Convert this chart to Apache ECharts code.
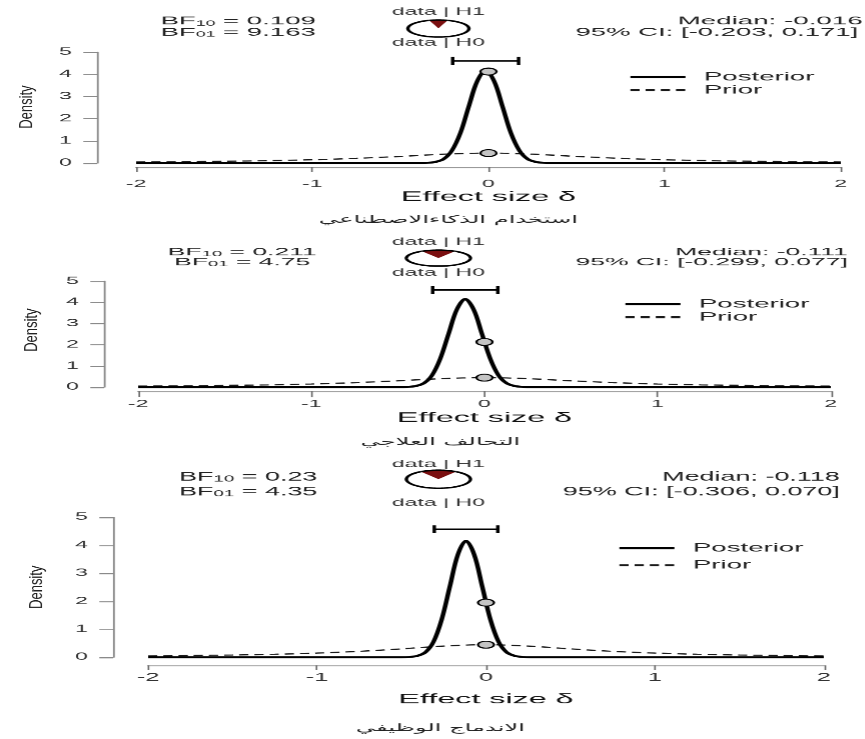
<!DOCTYPE html>
<html><head><meta charset="utf-8">
<script src="https://cdn.jsdelivr.net/npm/echarts@6/dist/echarts.min.js"></script>
<style>
html,body{margin:0;padding:0;background:#fff;overflow:hidden}
#c{width:376.087px;height:739px;transform:scaleX(2.3);transform-origin:0 0;}
</style></head><body><div id="c"></div>
<script>
// ---------------- data ----------------
const xTickValues = [-2, -1, 0, 1, 2];
const xTickLabels = ['-2', '-1', '0', '1', '2'];
const yTickValues = [0, 1, 2, 3, 4, 5];
const yTickLabels = ['0', '1', '2', '3', '4', '5'];
const panelTitles = ['استخدام الذكاءالاصطناعي', 'التحالف العلاجي', 'الاندماج الوظيفي'];
const bf10 = ['0.109', '0.211', '0.23'];
const bf01 = ['9.163', '4.75', '4.35'];
const medians = ['-0.016', '-0.111', '-0.118'];
const ciLow = [-0.203, -0.299, -0.306];
const ciHigh = [0.171, 0.077, 0.070];
const ciLevel = [4.60, 4.58, 4.57];
const pizzaH1 = [0.098, 0.174, 0.187];
const pizzaH0 = [0.902, 0.826, 0.813];
const posteriorAtZero = [4.12, 2.13, 1.95];
const priorAtZero = 0.45;
const seriesNames = ['Posterior', 'Prior'];

const priorX = [-2, -1.75, -1.5, -1.25, -1, -0.75, -0.5, -0.25, 0, 0.25, 0.5, 0.75, 1, 1.25, 1.5, 1.75, 2];
const priorY = [0.05, 0.063, 0.082, 0.109, 0.15, 0.212, 0.30, 0.40, 0.45, 0.40, 0.30, 0.212, 0.15, 0.109, 0.082, 0.063, 0.05];

const post1X = [-2, -0.398, -0.350, -0.303, -0.255, -0.207, -0.159, -0.112, -0.064, -0.016, 0.032, 0.080, 0.127, 0.175, 0.223, 0.271, 0.318, 0.366, 2];
const post1Y = [0, 0, 0.01, 0.05, 0.18, 0.57, 1.36, 2.54, 3.69, 4.18, 3.69, 2.54, 1.36, 0.57, 0.18, 0.05, 0.01, 0, 0];
const post2X = [-2, -0.495, -0.447, -0.399, -0.351, -0.303, -0.255, -0.207, -0.159, -0.111, -0.063, -0.015, 0.033, 0.081, 0.129, 0.177, 0.225, 0.273, 2];
const post2Y = [0, 0, 0.01, 0.05, 0.18, 0.56, 1.35, 2.52, 3.67, 4.16, 3.67, 2.52, 1.35, 0.56, 0.18, 0.05, 0.01, 0, 0];
const post3X = [-2, -0.502, -0.454, -0.406, -0.358, -0.310, -0.262, -0.214, -0.166, -0.118, -0.070, -0.022, 0.026, 0.074, 0.122, 0.170, 0.218, 0.266, 2];
const post3Y = [0, 0, 0.01, 0.05, 0.18, 0.56, 1.35, 2.52, 3.67, 4.16, 3.67, 2.52, 1.35, 0.56, 0.18, 0.05, 0.01, 0, 0];

// ---------------- layout (reference pixel coords; x divided by SX) ----------------
const SX = 2.3;
const F = "'Liberation Sans', Arial, sans-serif";
const layout = [
  {gx0:136, gx1:840, gy5:52, gy0:163, yOff:39, xOff:4, tick:5, lblM:12, nameGap:23, xFont:10,
   txt:{fs:11, sx:1.09, y1:21.5, y2:32.5}, bfX:238, medLeft:[677, 575], medSX:[1.095, 1.085],
   piz:{x:438, y:28.5, w:61, h:17, h1:12, h0:43}, leg:{x:616, y:76, gap:13},
   title:{x:448, y:220}, dens:{x:27, y:107}},
  {gx0:138, gx1:830, gy5:281, gy0:387, yOff:34, xOff:4, tick:6, lblM:8, nameGap:20, xFont:10,
   txt:{fs:10, sx:1.15, y1:252.5, y2:262.5}, bfX:242, medX:847,
   piz:{x:438, y:258, w:64, h:16, h1:242, h0:273}, leg:{x:611, y:303, gap:13},
   title:{x:440, y:442}, dens:{x:32, y:330}},
  {gx0:148, gx1:823, gy5:517, gy0:657, yOff:35, xOff:8, tick:5, lblM:7, nameGap:27, xFont:11,
   txt:{fs:13, sx:0.9, y1:477, y2:491.5}, bfX:248, medX:839,
   piz:{x:438, y:479, w:64, h:18, h1:464, h0:503}, leg:{x:605, y:547, gap:17},
   title:{x:440, y:728}, dens:{x:37, y:587}}
];

const postX = [post1X, post2X, post3X];
const postY = [post1Y, post2Y, post3Y];
const zip = (a, b) => a.map((v, i) => [v, b[i]]);

const chart = echarts.init(document.getElementById('c'), null, {renderer: 'canvas', devicePixelRatio: 2.3});

const grids = [], xAxes = [], yAxes = [], series = [], legends = [], graphics = [];

function ciRender(params, api) {
  const lo = api.coord([api.value(0), api.value(2)]);
  const hi = api.coord([api.value(1), api.value(2)]);
  const st = {stroke: '#000', lineWidth: 1.5};
  return {type: 'group', children: [
    {type: 'line', shape: {x1: lo[0], y1: lo[1], x2: hi[0], y2: hi[1]}, style: st},
    {type: 'line', shape: {x1: lo[0], y1: lo[1] - 4, x2: lo[0], y2: lo[1] + 4}, style: st},
    {type: 'line', shape: {x1: hi[0], y1: hi[1] - 4, x2: hi[0], y2: hi[1] + 4}, style: st}
  ]};
}

function pizzaRender(params, api) {
  const f0 = api.value(0), f1 = api.value(1), share = api.value(2);
  const toAng = f => Math.PI / 2 + Math.PI * share - 2 * Math.PI * f;
  const a0 = toAng(f0), a1 = toAng(f1);
  const n = Math.max(2, Math.ceil(Math.abs(a1 - a0) / (Math.PI / 90)));
  const arc = [];
  for (let k = 0; k <= n; k++) {
    const a = a0 + (a1 - a0) * k / n;
    arc.push(api.coord([Math.cos(a), Math.sin(a)]));
  }
  const c = api.coord([0, 0]);
  return {type: 'group', children: [
    {type: 'polygon', shape: {points: [c].concat(arc)}, style: {fill: params.dataIndex === 0 ? '#7a0f10' : '#ffffff'}},
    {type: 'polyline', shape: {points: arc}, style: {stroke: '#000', lineWidth: 1.5, fill: null}}
  ]};
}

layout.forEach((L, i) => {
  grids.push({left: L.gx0 / SX, width: (L.gx1 - L.gx0) / SX, top: L.gy5, height: L.gy0 - L.gy5});
  xAxes.push({
    type: 'value', gridIndex: i, min: xTickValues[0], max: xTickValues[xTickValues.length - 1], interval: 1,
    position: 'bottom', offset: L.xOff,
    axisLine: {show: true, onZero: false, lineStyle: {color: '#9a9a9a', width: 1}},
    axisTick: {show: true, length: L.tick, lineStyle: {color: '#666', width: 0.7}},
    axisLabel: {fontSize: L.xFont, fontFamily: F, color: '#333', margin: L.lblM,
      formatter: v => xTickLabels[xTickValues.indexOf(v)]},
    splitLine: {show: false},
    name: 'Effect size δ', nameLocation: 'middle', nameGap: L.nameGap,
    nameTextStyle: {fontSize: 14, fontFamily: F, color: '#111'}
  });
  yAxes.push({
    type: 'value', gridIndex: i, min: yTickValues[0], max: yTickValues[yTickValues.length - 1], interval: 1,
    position: 'left', offset: L.yOff / SX,
    axisLine: {show: true, onZero: false, lineStyle: {color: '#8a8a8a', width: 0.8}},
    axisTick: {show: true, length: 6, lineStyle: {color: '#8a8a8a', width: 1}},
    axisLabel: {fontSize: 10, fontFamily: F, color: '#333', margin: 11,
      formatter: v => yTickLabels[yTickValues.indexOf(v)]},
    splitLine: {show: false}
  });
});
layout.forEach((L, i) => {
  const P = L.piz;
  grids.push({left: (P.x - P.w / 2) / SX, width: P.w / SX, top: P.y - P.h / 2, height: P.h});
  xAxes.push({type: 'value', gridIndex: 3 + i, min: -1, max: 1, show: false});
  yAxes.push({type: 'value', gridIndex: 3 + i, min: -1, max: 1, show: false});
});

layout.forEach((L, i) => {
  series.push({
    name: seriesNames[1], type: 'line', xAxisIndex: i, yAxisIndex: i, data: zip(priorX, priorY),
    smooth: 0.3, symbol: 'none', z: 2,
    itemStyle: {color: 'rgba(0,0,0,0)'},
    lineStyle: {color: '#1a1a1a', width: 1.2, type: [4, 2.6]}
  });
  series.push({
    name: seriesNames[0], type: 'line', xAxisIndex: i, yAxisIndex: i, data: zip(postX[i], postY[i]),
    smooth: 0.35, symbol: 'none', z: 3,
    itemStyle: {color: 'rgba(0,0,0,0)'},
    lineStyle: {color: '#000', width: 2}
  });
  series.push({
    name: 'ci', type: 'custom', xAxisIndex: i, yAxisIndex: i, renderItem: ciRender, z: 4, clip: false,
    data: [[ciLow[i], ciHigh[i], ciLevel[i]]]
  });
  series.push({
    name: 'dots', type: 'scatter', xAxisIndex: i, yAxisIndex: i, z: 5, symbol: 'circle', symbolSize: 7,
    itemStyle: {color: '#c4c4c4', borderColor: '#000', borderWidth: 1, opacity: 1},
    data: [[0, posteriorAtZero[i]], [0, priorAtZero]]
  });
  series.push({
    name: 'pizza', type: 'custom', xAxisIndex: 3 + i, yAxisIndex: 3 + i, renderItem: pizzaRender, clip: false,
    data: [[0, pizzaH1[i], pizzaH1[i]], [pizzaH1[i], pizzaH1[i] + pizzaH0[i], pizzaH1[i]]]
  });

  legends.push({
    orient: 'vertical', left: L.leg.x / SX, top: L.leg.y - 10, itemWidth: 55 / SX, itemHeight: 8,
    itemGap: L.leg.gap - 12, data: seriesNames, selectedMode: false,
    itemStyle: {color: 'rgba(0,0,0,0)', borderWidth: 0},
    textStyle: {fontSize: 12, lineHeight: 12, fontFamily: F, color: '#222', padding: [0, 0, 0, 3]}
  });

  const T = L.txt;
  const rich = {
    n: {fontSize: T.fs, lineHeight: T.fs, fontFamily: F, fill: '#222'},
    s: {fontSize: Math.round(T.fs * 0.68), lineHeight: Math.round(T.fs * 0.68), fontFamily: F, fill: '#222', verticalAlign: 'bottom'}
  };
  const addText = (x, y, text, align, sx, extra) => graphics.push({
    type: 'text', x: x / SX, y: y, z: 10, scaleX: sx,
    style: Object.assign({text: text, fontSize: T.fs, lineHeight: T.fs, fontFamily: F, fill: '#222', align: align, verticalAlign: 'middle'}, extra || {})
  });
  const medLines = ['Median: ' + medians[i], '95% CI: [' + ciLow[i].toFixed(3) + ', ' + ciHigh[i].toFixed(3) + ']'];
  addText(L.bfX, T.y1, '{n|BF}{s|10}{n| = ' + bf10[i] + '}', 'center', T.sx, {rich: rich});
  addText(L.bfX, T.y2, '{n|BF}{s|01}{n| = ' + bf01[i] + '}', 'center', T.sx, {rich: rich});
  if (L.medLeft) {
    addText(L.medLeft[0], T.y1, medLines[0], 'left', L.medSX[0]);
    addText(L.medLeft[1], T.y2, medLines[1], 'left', L.medSX[1]);
  } else {
    addText(L.medX, T.y1, medLines[0], 'right', T.sx);
    addText(L.medX, T.y2, medLines[1], 'right', T.sx);
  }

  graphics.push({type: 'text', x: L.piz.x / SX, y: L.piz.h1, z: 10, style: {
    text: 'data | H1', fontSize: 10, fontFamily: F, fill: '#333', align: 'center', verticalAlign: 'middle'}});
  graphics.push({type: 'text', x: L.piz.x / SX, y: L.piz.h0, z: 10, style: {
    text: 'data | H0', fontSize: 10, fontFamily: F, fill: '#333', align: 'center', verticalAlign: 'middle'}});
  graphics.push({type: 'text', x: L.title.x / SX, y: L.title.y, z: 10, style: {
    text: panelTitles[i], fontSize: 10.5, fontFamily: "'DejaVu Sans', sans-serif", fill: '#222', align: 'center', verticalAlign: 'middle'}});
  graphics.push({type: 'text', x: L.dens.x / SX, y: L.dens.y, z: 10, rotation: Math.PI / 2, scaleY: 0.6, style: {
    text: 'Density', fontSize: 13, fontFamily: F, fill: '#222', align: 'center', verticalAlign: 'middle'}});
});

chart.setOption({
  animation: false,
  backgroundColor: '#ffffff',
  textStyle: {fontFamily: F},
  grid: grids, xAxis: xAxes, yAxis: yAxes, series: series, legend: legends, graphic: graphics
});
</script></body></html>
